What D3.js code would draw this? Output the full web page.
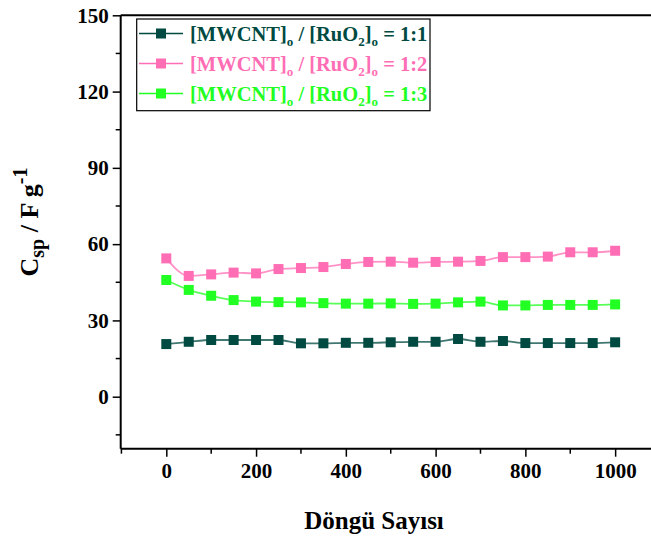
<!DOCTYPE html>
<html><head><meta charset="utf-8">
<script src="https://cdn.jsdelivr.net/npm/d3@7"></script>
<style>body{margin:0;background:#fff}svg{display:block}</style>
</head><body>
<script>
const cycles = [0,50,100,150,200,250,300,350,400,450,500,550,600,650,700,750,800,850,900,950,1000];
const ratio11 = [20.7,21.6,22.3,22.3,22.3,22.3,21.0,21.0,21.2,21.2,21.4,21.6,21.6,22.7,21.6,21.9,21.1,21.1,21.1,21.1,21.4];
const ratio12 = [54.4,47.5,48.1,48.8,48.5,50.2,50.6,51.0,52.2,53.0,53.1,52.7,53.0,53.1,53.4,54.9,54.9,55.1,56.8,56.8,57.4];
const ratio13 = [45.9,42.0,39.7,38.0,37.4,37.2,37.1,36.8,36.6,36.6,36.7,36.5,36.6,37.1,37.4,35.9,35.9,36.1,36.1,36.1,36.3];
const seriesNames = ["1:1","1:2","1:3"];
const seriesColors = ["#004a42","#ff6eb4","#22ff22"];
const xTicks = [0,200,400,600,800,1000];
const yTicks = [0,30,60,90,120,150];

(function(){
const W=651,H=537;
const svg=d3.select("body").append("svg").attr("width",W).attr("height",H);
const pL=120.7, pR=651, pT=15.3, pB=448.7;
const x=d3.scaleLinear().domain([-101.6,1079.9]).range([pL,pR]);
const y=d3.scaleLinear().domain([-20.45,150]).range([pB,pT]);
const font="'Liberation Serif','Times New Roman',serif";

svg.append("line").attr("x1",pL).attr("x2",pR).attr("y1",pT).attr("y2",pT).attr("stroke","#000").attr("stroke-width",2);

const yAxis=d3.axisLeft(y).tickValues(yTicks).tickSize(8).tickPadding(4).tickFormat(d3.format("d"));
const gy=svg.append("g").attr("transform",`translate(${pL},0)`).call(yAxis);
gy.select(".domain").attr("stroke-width",2).attr("d",`M0,${pT}V${pB}`);
gy.selectAll(".tick line").attr("stroke-width",1.5);
gy.selectAll("text").attr("font-family",font).attr("font-weight","bold").attr("font-size",21).attr("fill","#000");
svg.append("g").selectAll("line").data(d3.range(-15,150,30)).join("line")
  .attr("x1",pL-5).attr("x2",pL).attr("y1",d=>y(d)).attr("y2",d=>y(d)).attr("stroke","#000").attr("stroke-width",1.5);

const xAxis=d3.axisBottom(x).tickValues(xTicks).tickSize(8).tickPadding(6).tickFormat(d3.format("d"));
const gx=svg.append("g").attr("transform",`translate(0,${pB})`).call(xAxis);
gx.select(".domain").attr("stroke-width",2).attr("d",`M${pL},0H${pR}`);
gx.selectAll(".tick line").attr("stroke-width",1.5);
gx.selectAll("text").attr("font-family",font).attr("font-weight","bold").attr("font-size",21).attr("fill","#000");
svg.append("g").selectAll("line").data(d3.range(-100,1001,200)).join("line")
  .attr("x1",d=>x(d)).attr("x2",d=>x(d)).attr("y1",pB).attr("y2",pB+5).attr("stroke","#000").attr("stroke-width",1.5);

svg.append("text").attr("x",374).attr("y",529).attr("text-anchor","middle")
  .attr("font-family",font).attr("font-weight","bold").attr("font-size",25).text("Döngü Sayısı");
const yt=svg.append("text").attr("transform",`translate(38,${222}) rotate(-90)`).attr("text-anchor","middle")
  .attr("font-family",font).attr("font-weight","bold").attr("font-size",26);
yt.append("tspan").text("C");
yt.append("tspan").attr("font-size",20).attr("dy",6).text("sp");
yt.append("tspan").attr("dy",-6).text(" / F g");
yt.append("tspan").attr("font-size",20).attr("dy",-11).text("-1");

const data=[ratio11,ratio12,ratio13];
const line=d3.line().x((d,i)=>x(cycles[i])).y(d=>y(d)).curve(d3.curveMonotoneX);
data.forEach((vals,k)=>{
  const g=svg.append("g");
  g.append("path").attr("d",line(vals)).attr("fill","none").attr("stroke",seriesColors[k]).attr("stroke-width",1.8).attr("stroke-opacity",0.75);
  g.selectAll("rect").data(vals).join("rect")
    .attr("x",(d,i)=>x(cycles[i])-5).attr("y",d=>y(d)-5).attr("width",10).attr("height",10).attr("fill",seriesColors[k]);
});

const lg=svg.append("g");
lg.append("rect").attr("x",136.7).attr("y",19).attr("width",293.3).attr("height",91.7).attr("fill","#fff").attr("stroke","#000").attr("stroke-width",1.2);
const rowsY=[33.5,63.5,93.5];
seriesNames.forEach((nm,k)=>{
  const yy=rowsY[k];
  lg.append("line").attr("x1",139).attr("x2",183).attr("y1",yy).attr("y2",yy).attr("stroke",seriesColors[k]).attr("stroke-width",1.5);
  lg.append("rect").attr("x",156).attr("y",yy-5).attr("width",10).attr("height",10).attr("fill",seriesColors[k]);
  const t=lg.append("text").attr("x",190).attr("y",yy+7).attr("font-family",font).attr("font-weight","bold").attr("font-size",20.5).attr("fill",seriesColors[k]);
  t.append("tspan").text("[MWCNT]");
  t.append("tspan").attr("font-size",13).attr("dy",5).text("o");
  t.append("tspan").attr("dy",-5).text(" / [RuO");
  t.append("tspan").attr("font-size",13).attr("dy",5).text("2");
  t.append("tspan").attr("dy",-5).text("]");
  t.append("tspan").attr("font-size",13).attr("dy",5).text("o");
  t.append("tspan").attr("dy",-5).text(" = "+nm);
});
})();
</script>
</body></html>
